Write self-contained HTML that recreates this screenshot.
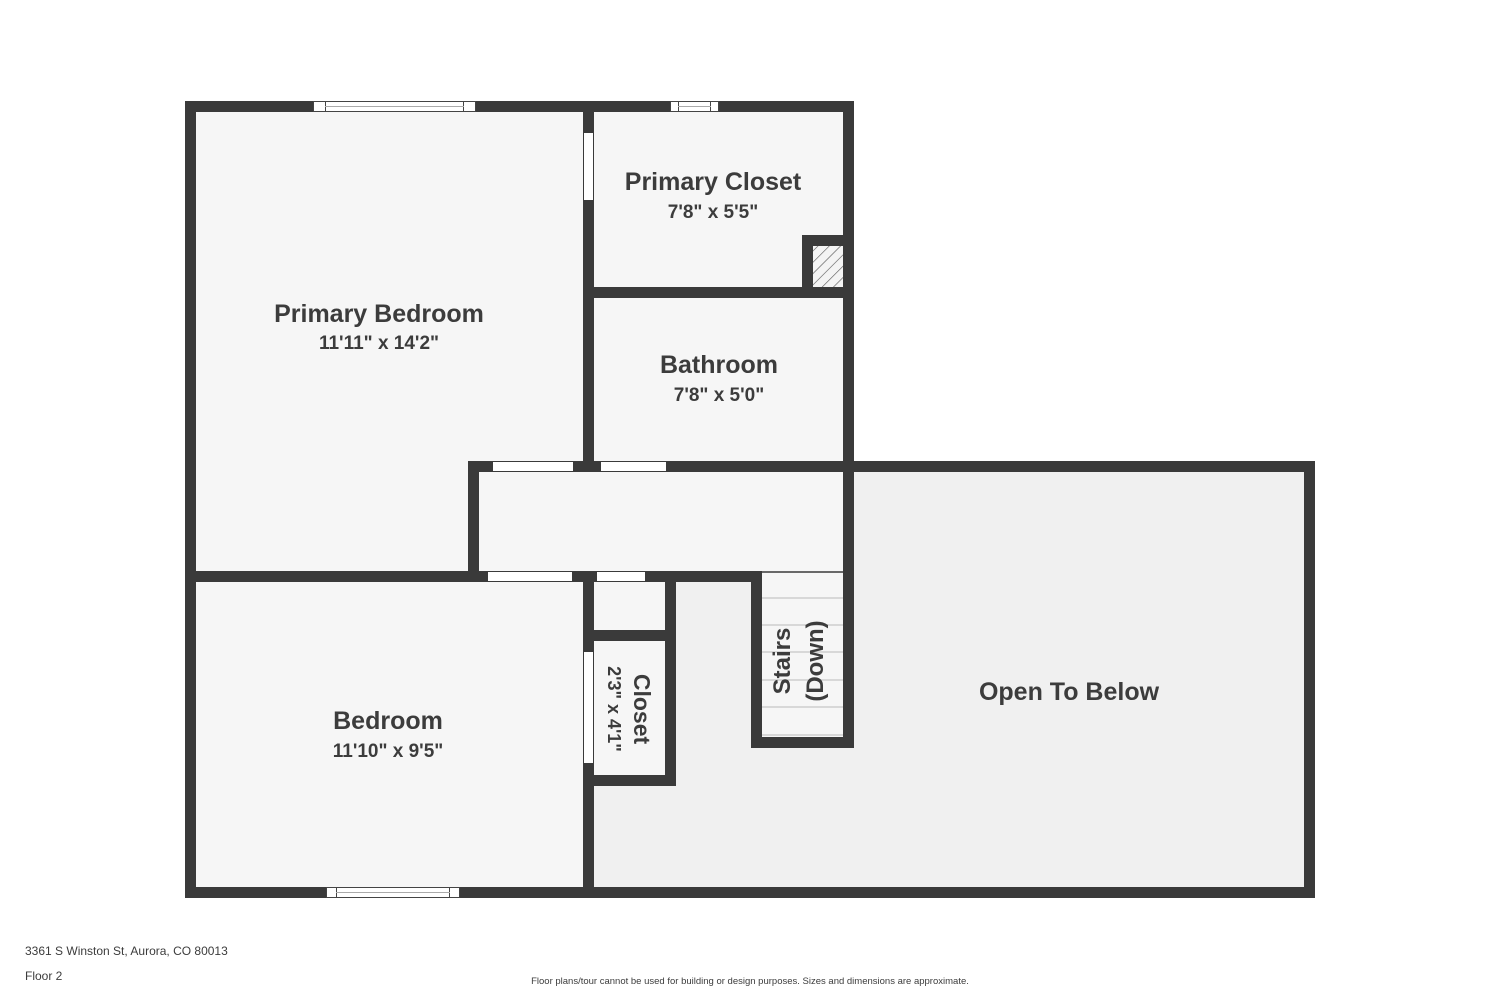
<!DOCTYPE html>
<html><head><meta charset="utf-8"><style>
html,body{margin:0;padding:0;background:#fff;}
svg{display:block;}
text{font-family:"Liberation Sans",sans-serif;fill:#3c3c3c;}
</style></head><body>
<svg width="1500" height="1000" viewBox="0 0 1500 1000" xmlns="http://www.w3.org/2000/svg">
<defs>
<pattern id="h" width="8" height="8" patternUnits="userSpaceOnUse" patternTransform="rotate(45)">
<rect width="8" height="8" fill="#f4f4f4"/><line x1="0" y1="0" x2="0" y2="8" stroke="#555" stroke-width="1.2"/>
</pattern>
</defs>
<rect x="196" y="111" width="387" height="460" fill="#f6f6f6"/>
<rect x="594" y="111" width="249" height="176" fill="#f6f6f6"/>
<rect x="594" y="298" width="249" height="163" fill="#f6f6f6"/>
<rect x="479" y="472" width="364" height="99" fill="#f6f6f6"/>
<rect x="196" y="582" width="387" height="305" fill="#f6f6f6"/>
<rect x="854" y="472" width="450" height="415" fill="#f0f0f0"/>
<rect x="594" y="582" width="260" height="305" fill="#f0f0f0"/>
<rect x="594" y="582" width="71" height="48" fill="#f6f6f6"/>
<rect x="594" y="641" width="71" height="134" fill="#f6f6f6"/>
<rect x="762" y="571" width="81" height="166" fill="#f6f6f6"/>
<line x1="762" y1="572" x2="843" y2="572" stroke="#3a3a3a" stroke-width="1.5"/>
<g stroke="#bbb" stroke-width="1">
<line x1="762" y1="598" x2="843" y2="598"/><line x1="762" y1="625" x2="843" y2="625"/>
<line x1="762" y1="652" x2="843" y2="652"/><line x1="762" y1="680" x2="843" y2="680"/>
<line x1="762" y1="707" x2="843" y2="707"/><line x1="762" y1="735" x2="843" y2="735"/>
</g>
<rect x="813" y="246" width="30" height="41" fill="url(#h)"/>
<g fill="#3a3a3a">
<rect x="185" y="101" width="669" height="11"/>
<rect x="185" y="101" width="11" height="797"/>
<rect x="185" y="887" width="1130" height="11"/>
<rect x="1304" y="461" width="11" height="437"/>
<rect x="468" y="461" width="847" height="11"/>
<rect x="468" y="461" width="11" height="121"/>
<rect x="583" y="101" width="11" height="371"/>
<rect x="843" y="101" width="11" height="647"/>
<rect x="583" y="287" width="271" height="11"/>
<rect x="802" y="235" width="52" height="11"/>
<rect x="802" y="235" width="11" height="63"/>
<rect x="185" y="571" width="577" height="11"/>
<rect x="751" y="571" width="11" height="177"/>
<rect x="751" y="737" width="103" height="11"/>
<rect x="583" y="571" width="11" height="327"/>
<rect x="665" y="571" width="11" height="215"/>
<rect x="583" y="630" width="93" height="11"/>
<rect x="583" y="775" width="93" height="11"/>
</g>
<g fill="#fff">
<rect x="493" y="462" width="80" height="9"/>
<rect x="601" y="462" width="65" height="9"/>
<rect x="488" y="572" width="84" height="9"/>
<rect x="597" y="572" width="48" height="9"/>
<rect x="584" y="133" width="9" height="67"/>
<rect x="584" y="652" width="9" height="111"/>
</g>
<g fill="#fff" stroke="#444" stroke-width="1">
<rect x="313.5" y="101.5" width="162" height="10"/>
<rect x="325.5" y="101.5" width="138" height="10"/>
<line x1="325" y1="106.5" x2="464" y2="106.5" stroke="#aaa"/>
<rect x="670.5" y="101.5" width="48" height="10"/>
<rect x="678.5" y="101.5" width="32" height="10"/>
<line x1="678" y1="106.5" x2="711" y2="106.5" stroke="#aaa"/>
<rect x="326.5" y="887.5" width="133" height="10"/>
<rect x="336.5" y="887.5" width="113" height="10"/>
<line x1="336" y1="892.5" x2="450" y2="892.5" stroke="#aaa"/>
</g>
<g text-anchor="middle" font-weight="bold">
<text x="379" y="322" font-size="25">Primary Bedroom</text>
<text x="379" y="349" font-size="19">11'11" x 14'2"</text>
<text x="713" y="190" font-size="25">Primary Closet</text>
<text x="713" y="218" font-size="19">7'8" x 5'5"</text>
<text x="719" y="373" font-size="25">Bathroom</text>
<text x="719" y="401" font-size="19">7'8" x 5'0"</text>
<text x="388" y="729" font-size="25">Bedroom</text>
<text x="388" y="757" font-size="19">11'10" x 9'5"</text>
<text x="1069" y="700" font-size="25">Open To Below</text>
<g transform="translate(634,709) rotate(90)">
<text x="0" y="0" font-size="23">Closet</text>
<text x="0" y="26" font-size="18">2'3" x 4'1"</text>
</g>
<g transform="translate(790,661) rotate(-90)">
<text x="0" y="0" font-size="24">Stairs</text>
<text x="0" y="33" font-size="24">(Down)</text>
</g>
</g>
<text x="25" y="955" font-size="12">3361 S Winston St, Aurora, CO 80013</text>
<text x="25" y="980" font-size="12">Floor 2</text>
<text x="750" y="984" font-size="9.5" text-anchor="middle">Floor plans/tour cannot be used for building or design purposes. Sizes and dimensions are approximate.</text>
</svg>
</body></html>
